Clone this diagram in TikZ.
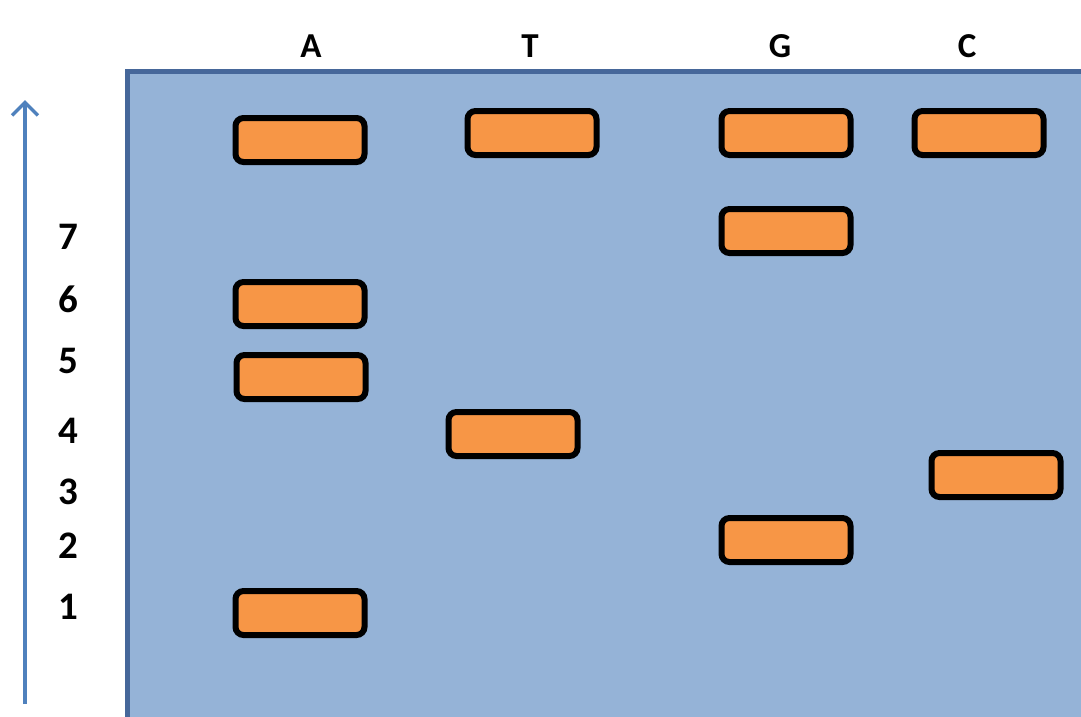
\documentclass[tikz,border=0pt]{standalone}
\usepackage{fontspec}
\setmainfont{Carlito}
\usetikzlibrary{arrows.meta}
\definecolor{gelfill}{HTML}{95B3D7}
\definecolor{geledge}{HTML}{46679A}
\definecolor{bandfill}{HTML}{F79646}
\definecolor{arrowblue}{HTML}{4F81BD}
\tikzset{
  band/.style={draw=black, fill=bandfill, line width=6pt, rounded corners=8pt,
    minimum width=129pt, minimum height=44pt, inner sep=0pt},
  lane/.style={font=\fontsize{35}{40}\selectfont\bfseries, inner sep=0pt},
  size/.style={font=\fontsize{39}{44}\selectfont\bfseries, inner sep=0pt},
}
\begin{document}
\begin{tikzpicture}[x=1pt,y=-1pt]
\useasboundingbox (0,0) rectangle (1081,716);
\begin{scope}
\clip (0,0) rectangle (1081,716);
\draw[geledge, fill=gelfill, line width=5pt] (127,71) rectangle (1100,740);
\end{scope}
% lane labels
\node[lane] (lA) at (311,46) {A};
\node[lane] (lT) at (530,46) {T};
\node[lane] (lG) at (780,46) {G};
\node[lane] (lC) at (967,46) {C};
% size labels
\node[size] (n7) at (68,237) {7};
\node[size] (n6) at (68,299) {6};
\node[size] (n5) at (68,361) {5};
\node[size] (n4) at (68,431) {4};
\node[size] (n3) at (68,492) {3};
\node[size] (n2) at (68,546) {2};
\node[size] (n1) at (68,607) {1};
% arrow
\coordinate (abot) at (25,704);
\coordinate (atop) at (25,100);
\draw[arrowblue, line width=3.5pt, -{Straight Barb[length=13pt,width=26pt]}] (abot) -- (atop);
% bands
\node[band] (a0) at (300,140) {};
\node[band] (a6) at (300,304) {};
\node[band] (a5) at (301,377) {};
\node[band] (a1) at (300,613) {};
\node[band] (t0) at (532,133) {};
\node[band] (t4) at (513,434) {};
\node[band] (g0) at (786,133) {};
\node[band] (g7) at (786,231) {};
\node[band] (g2) at (786,540) {};
\node[band] (c0) at (979,133) {};
\node[band] (c3) at (996,475) {};
\end{tikzpicture}
\end{document}
